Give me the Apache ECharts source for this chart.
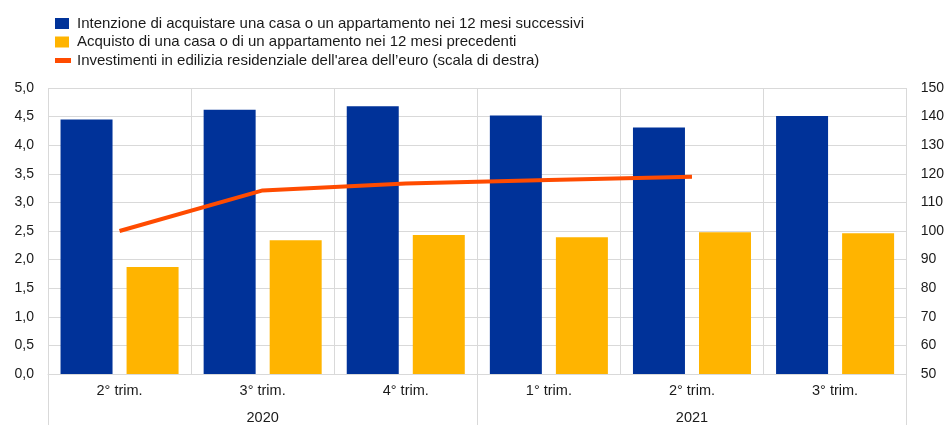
<!DOCTYPE html>
<html>
<head>
<meta charset="utf-8">
<script src="https://cdn.jsdelivr.net/npm/echarts@6/dist/echarts.min.js"></script>
<style>html,body{margin:0;padding:0;background:#fff}#c{width:947px;height:425px}</style>
</head>
<body>
<div id="c"></div>
<script>
const quarters = ['2° trim.', '3° trim.', '4° trim.', '1° trim.', '2° trim.', '3° trim.'];
const years = ['2020', '2021'];
const intention = [4.45, 4.62, 4.68, 4.52, 4.31, 4.51];
const purchase = [1.87, 2.34, 2.43, 2.39, 2.48, 2.46];
const investment = [100.0, 114.2, 116.6, 117.8, 119.0, null];
const nameIntention = 'Intenzione di acquistare una casa o un appartamento nei 12 mesi successivi';
const namePurchase = 'Acquisto di una casa o di un appartamento nei 12 mesi precedenti';
const nameInvest = "Investimenti in edilizia residenziale dell'area dell\u2019euro (scala di destra)";

const FONT = 'Liberation Sans, Arial, sans-serif';
const TXT = '#1a1a1a';
const GRID = '#d9d9d9';
const chart = echarts.init(document.getElementById('c'), null, {renderer: 'canvas'});
const legendBase = {
  orient: 'horizontal', left: 50, itemGap: 0, selectedMode: false,
  textStyle: {fontFamily: FONT, fontSize: 15, color: TXT, padding: [0, 0, 0, 3]}
};
chart.setOption({
  animation: false,
  legend: [
    Object.assign({}, legendBase, {top: 11, itemWidth: 14, itemHeight: 11, icon: 'rect', data: [nameIntention]}),
    Object.assign({}, legendBase, {top: 29.5, itemWidth: 14, itemHeight: 11, icon: 'rect', data: [namePurchase]}),
    Object.assign({}, legendBase, {top: 48, itemWidth: 16, itemHeight: 5, icon: 'rect', data: [nameInvest], textStyle: Object.assign({}, legendBase.textStyle, {padding: [0, 0, 0, 1]})})
  ],
  grid: {left: 48, right: 40, top: 88, bottom: 51, containLabel: false},
  xAxis: [
    {
      type: 'category', data: quarters, position: 'bottom',
      axisLine: {show: true, lineStyle: {color: GRID, width: 1}},
      axisTick: {show: false},
      splitLine: {show: true, lineStyle: {color: GRID, width: 1}},
      axisLabel: {fontFamily: FONT, fontSize: 14.5, color: TXT, margin: 9}
    },
    {
      type: 'category', data: years, position: 'bottom',
      axisLine: {show: false},
      axisTick: {show: true, length: 51, lineStyle: {color: GRID, width: 1}},
      splitLine: {show: false},
      axisLabel: {fontFamily: FONT, fontSize: 14.5, color: TXT, margin: 36}
    }
  ],
  yAxis: [
    {
      type: 'value', min: 0, max: 5, interval: 0.5,
      axisLine: {show: false}, axisTick: {show: false},
      splitLine: {show: true, lineStyle: {color: GRID, width: 1}},
      axisLabel: {fontFamily: FONT, fontSize: 14, color: TXT, margin: 14,
        formatter: v => v.toFixed(1).replace('.', ',')}
    },
    {
      type: 'value', min: 50, max: 150, interval: 10, position: 'right',
      axisLine: {show: false}, axisTick: {show: false}, splitLine: {show: false},
      axisLabel: {fontFamily: FONT, fontSize: 14, color: TXT, margin: 14}
    }
  ],
  series: [
    {name: nameIntention, type: 'bar', data: intention, barWidth: 52, barGap: '27%',
     itemStyle: {color: '#003299'}},
    {name: namePurchase, type: 'bar', data: purchase, barWidth: 52, barGap: '27%',
     itemStyle: {color: '#FFB400'}},
    {name: nameInvest, type: 'line', yAxisIndex: 1, data: investment, symbol: 'none',
     connectNulls: false, lineStyle: {color: '#FF4B00', width: 4}, itemStyle: {color: '#FF4B00'}, z: 5}
  ]
});
</script>
</body>
</html>
